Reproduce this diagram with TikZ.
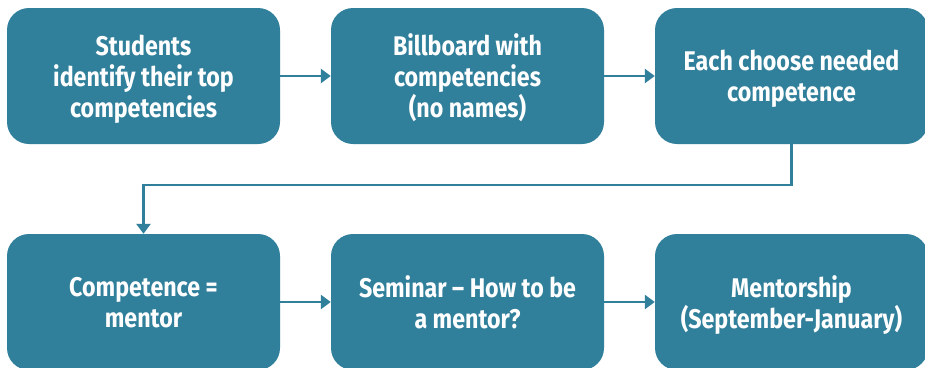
\documentclass[tikz,border=0pt]{standalone}
\usepackage{fontspec}
\setmainfont{Fira Sans}[FakeStretch=0.86]
\usetikzlibrary{arrows.meta}
\definecolor{boxblue}{HTML}{307F9B}

\begin{document}
\begin{tikzpicture}[x=1pt, y=-1pt,
	box/.style={fill=boxblue, rounded corners=22pt, minimum width=273pt,
		minimum height=136pt, inner sep=0pt, text=white, align=center,
		text depth=0pt, font=\bfseries\fontsize{27}{31}\selectfont},
	flow/.style={draw=boxblue, line width=2.4pt,
		-{Triangle[length=10pt, width=14pt]}}]

\clip (0,0) rectangle (925,367);

% NODES
\node[box](stud) at(143.5, 76) {Students\\identify their top\\competencies};
\node[box](bill) at(467.5, 76) {Billboard with\\competencies\\(no names)};
\node[box](pick) at(791.5, 76) {Each choose needed\\competence};

\node[box](ment) at(143.5, 302) {Competence =\\mentor};
\node[box](semi) at(467.5, 302) {Seminar -- How to be\\a mentor?};
\node[box](ship) at(791.5, 302) {Mentorship\\(September-January)};

% ARCS
\foreach \u \v in{stud/bill, bill/pick, ment/semi, semi/ship}{
	\draw[flow] (\u) -- (\v);
}

\draw[flow] (pick.south) -- ++(0, 41) -| (ment.north);

\end{tikzpicture}
\end{document}
